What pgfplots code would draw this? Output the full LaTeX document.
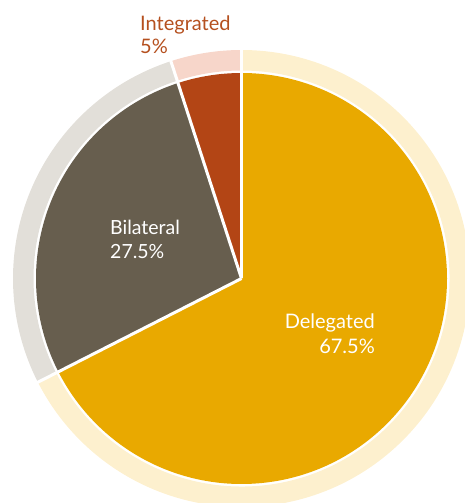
\documentclass[border=0pt]{standalone}
\usepackage{pgfplots}
\pgfplotsset{compat=1.18}
\usepackage{fontspec}
\setmainfont{Lato}
\definecolor{del}{HTML}{E9A900}
\definecolor{delring}{HTML}{FDF0CE}
\definecolor{bil}{HTML}{675E4E}
\definecolor{bilring}{HTML}{E2DFD9}
\definecolor{integ}{HTML}{B34515}
\definecolor{integring}{HTML}{F7D6CA}
\definecolor{integtext}{HTML}{B5501F}
% data (percent)
\def\pieDel{67.5}
\def\pieBil{27.5}
\def\pieInt{5}
\pgfmathsetmacro{\pieAngA}{90}
\pgfmathsetmacro{\pieAngB}{\pieAngA-3.6*\pieDel}
\pgfmathsetmacro{\pieAngC}{\pieAngB-3.6*\pieBil}
\pgfmathsetmacro{\pieAngD}{\pieAngC-3.6*\pieInt}
\begin{document}
\begin{tikzpicture}
\begin{axis}[x=1pt,y=1pt,xmin=0,xmax=465,ymin=0,ymax=503,hide axis,clip=true]
% pie slices
\fill[del] (axis cs:241.5,224.5) -- ++(\pieAngA:205.5pt) arc[start angle=\pieAngA,end angle=\pieAngB,radius=205.5pt] -- cycle;
\fill[bil] (axis cs:241.5,224.5) -- ++(\pieAngB:205.5pt) arc[start angle=\pieAngB,end angle=\pieAngC,radius=205.5pt] -- cycle;
\fill[integ] (axis cs:241.5,224.5) -- ++(\pieAngC:205.5pt) arc[start angle=\pieAngC,end angle=\pieAngD,radius=205.5pt] -- cycle;
% ring
\fill[delring] (axis cs:241.5,224.5) ++(\pieAngA:228.5pt) arc[start angle=\pieAngA,end angle=\pieAngB,radius=228.5pt] -- ++(\pieAngB:-20.5pt) arc[start angle=\pieAngB,end angle=\pieAngA,radius=208pt] -- cycle;
\fill[bilring] (axis cs:241.5,224.5) ++(\pieAngB:228.5pt) arc[start angle=\pieAngB,end angle=\pieAngC,radius=228.5pt] -- ++(\pieAngC:-20.5pt) arc[start angle=\pieAngC,end angle=\pieAngB,radius=208pt] -- cycle;
\fill[integring] (axis cs:241.5,224.5) ++(\pieAngC:228.5pt) arc[start angle=\pieAngC,end angle=\pieAngD,radius=228.5pt] -- ++(\pieAngD:-20.5pt) arc[start angle=\pieAngD,end angle=\pieAngC,radius=208pt] -- cycle;
% separators
\draw[white,line width=3pt] (axis cs:241.5,224.5) -- ++(\pieAngA:232pt);
\draw[white,line width=3pt] (axis cs:241.5,224.5) -- ++(\pieAngB:232pt);
\draw[white,line width=3pt] (axis cs:241.5,224.5) -- ++(\pieAngC:232pt);
% labels
\node[anchor=base west,inner sep=0pt,text=integtext,font=\fontsize{20}{24}\selectfont] at (axis cs:140,472) {Integrated};
\node[anchor=base west,inner sep=0pt,text=integtext,font=\fontsize{20}{24}\selectfont] at (axis cs:140,449) {5\%};
\node[anchor=base west,inner sep=0pt,text=white,font=\fontsize{19.5}{23}\selectfont] at (axis cs:110,268) {Bilateral};
\node[anchor=base west,inner sep=0pt,text=white,font=\fontsize{19.5}{23}\selectfont] at (axis cs:110,244) {27.5\%};
\node[anchor=base east,inner sep=0pt,text=white,font=\fontsize{20}{24}\selectfont] at (axis cs:375,174) {Delegated};
\node[anchor=base east,inner sep=0pt,text=white,font=\fontsize{20}{24}\selectfont] at (axis cs:375,149) {67.5\%};
\end{axis}
\pgfresetboundingbox
\path (0,0) rectangle (465pt,503pt);
\end{tikzpicture}
\end{document}
